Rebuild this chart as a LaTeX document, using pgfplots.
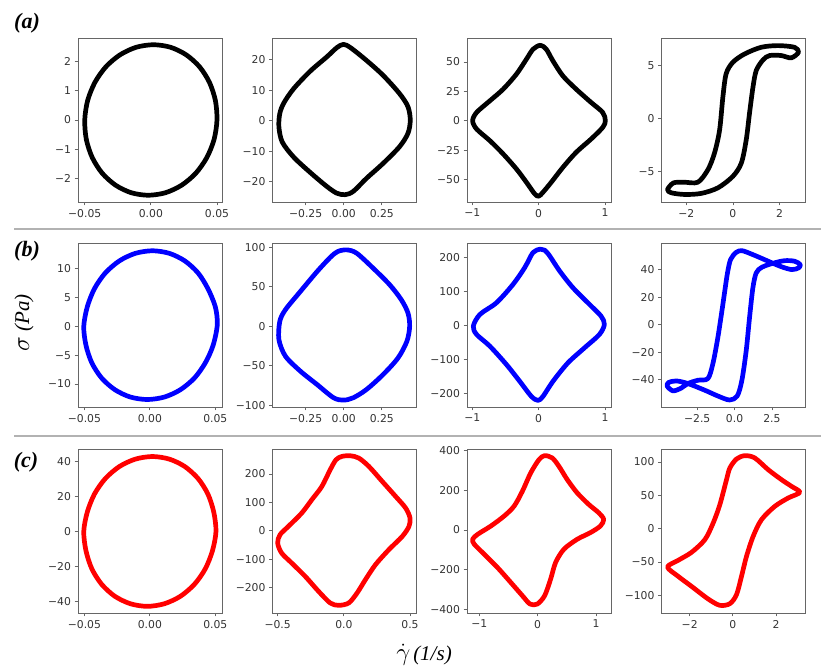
\documentclass[border=0pt]{standalone}
\usepackage{fontspec}
\setmainfont{DejaVu Sans}
\newfontfamily\tnr{Liberation Serif}
\usepackage{pgfplots}
\pgfplotsset{compat=1.18}
\pgfplotsset{
  cell/.style={scale only axis, width=144pt, height=164pt, anchor=north west,
    axis line style={black!60, line width=0.8pt},
    tick align=outside, xtick pos=left, ytick pos=left,
    scaled x ticks=false, scaled y ticks=false,
    major tick length=3.5pt, every tick/.style={black!60, line width=0.8pt},
    ticklabel style={font=\fontsize{10.8}{12}\selectfont, text=black!80},
    clip=false},
  curve/.style={smooth cycle, line width=4.7pt, line join=round, line cap=round, no markers},
}
\begin{document}
\begin{tikzpicture}
\path[use as bounding box] (0,0) rectangle (821pt,668pt);
% separators
\draw[black!30, line width=2pt] (14pt,438.8pt) -- (821pt,438.8pt);
\draw[black!30, line width=2pt] (14pt,232.3pt) -- (821pt,232.3pt);
% panel labels
\node[font=\tnr\bfseries\itshape\fontsize{22}{24}\selectfont] at (27pt,645pt) {(a)};
\node[font=\tnr\bfseries\itshape\fontsize{22}{24}\selectfont] at (27pt,417pt) {(b)};
\node[font=\tnr\bfseries\itshape\fontsize{22}{24}\selectfont] at (26pt,205.5pt) {(c)};
\node[rotate=90, font=\tnr\itshape\fontsize{21}{24}\selectfont] at (24pt,345pt) {{\fontsize{26}{28}\selectfont$\sigma$} (Pa)};
\node[font=\tnr\itshape\fontsize{21}{24}\selectfont] at (424pt,13pt) {{\fontsize{24}{26}\selectfont$\dot{\gamma}$}\hspace{3pt}(1/s)};

% ---------- row a ----------
\begin{axis}[cell, at={(78pt,630pt)}, xmin=-0.0551, xmax=0.0538, ymin=-2.8, ymax=2.8,
  xtick={-0.05,0,0.05}, xticklabels={−0.05,0.00,0.05},
  ytick={-2,-1,0,1,2}, yticklabels={−2,−1,0,1,2}]
\addplot[curve, black] coordinates {(0.05,0) (0.0488,0.666) (0.0443,1.285) (0.0368,1.817) (0.0267,2.226) (0.0149,2.483) (0.002,2.57) (-0.0111,2.483) (-0.0233,2.226) (-0.034,1.817) (-0.0423,1.285) (-0.0478,0.666) (-0.05,0) (-0.0488,-0.666) (-0.0443,-1.285) (-0.0368,-1.817) (-0.0267,-2.226) (-0.0149,-2.483) (-0.002,-2.57) (0.0111,-2.483) (0.0233,-2.226) (0.034,-1.817) (0.0423,-1.285) (0.0478,-0.666)};
\end{axis}
\begin{axis}[cell, at={(272.5pt,630pt)}, xmin=-0.468, xmax=0.478, ymin=-26.7, ymax=27.2,
  xtick={-0.25,0,0.25}, xticklabels={−0.25,0.00,0.25},
  ytick={-20,-10,0,10,20}, yticklabels={−20,−10,0,10,20}]
\addplot[curve, black] coordinates {(-0.002,25.1) (0.045,24.0) (0.15,19.8) (0.259,14.9) (0.367,8.9) (0.422,4.6) (0.437,0.2) (0.422,-4.1) (0.367,-8.5) (0.259,-14.0) (0.15,-18.9) (0.063,-23.2) (0.009,-24.3) (-0.046,-23.8) (-0.111,-21.6) (-0.220,-17.0) (-0.328,-12.0) (-0.404,-7.0) (-0.426,-2.0) (-0.420,2.4) (-0.393,5.9) (-0.328,10.6) (-0.220,16.3) (-0.111,21.0) (-0.046,24.0)};
\end{axis}
\begin{axis}[cell, at={(467pt,630pt)}, xmin=-1.08, xmax=1.09, ymin=-69.2, ymax=70.5,
  xtick={-1,0,1}, xticklabels={−1,0,1},
  ytick={-50,-25,0,25,50}, yticklabels={−50,−25,0,25,50}]
\addplot[curve, black] coordinates {(0.025,64.3) (-0.085,60.9) (-0.185,52.4) (-0.335,39.7) (-0.535,26.9) (-0.735,17.0) (-0.935,7.1) (-0.995,0) (-0.935,-7.1) (-0.735,-17.0) (-0.535,-28.3) (-0.335,-41.1) (-0.185,-52.4) (-0.06,-62.3) (0,-64.3) (0.065,-60.9) (0.19,-52.4) (0.365,-39.7) (0.565,-26.9) (0.79,-15.6) (0.965,-5.7) (1.005,0) (0.965,7.1) (0.79,15.6) (0.565,26.9) (0.365,38.2) (0.215,51.0) (0.115,60.9)};
\end{axis}
\begin{axis}[cell, at={(661.5pt,630pt)}, xmin=-3.06, xmax=3.11, ymin=-7.9, ymax=7.6,
  xtick={-2,0,2}, xticklabels={−2,0,2},
  ytick={-5,0,5}, yticklabels={−5,0,5}]
\addplot[curve, black] coordinates {(-0.57,-1.09) (-0.43,2.03) (-0.29,4.22) (0,5.31) (0.5,6.09) (1.21,6.72) (1.93,6.88) (2.64,6.72) (2.81,6.25) (2.5,5.72) (2.07,5.94) (1.57,5.94) (1.29,5.53) (1.0,4.53) (0.86,2.97) (0.71,0.47) (0.57,-2.03) (0.36,-4.22) (0,-5.47) (-0.64,-6.56) (-1.36,-7.09) (-2.07,-7.19) (-2.64,-7.03) (-2.80,-6.72) (-2.55,-6.1) (-2.1,-6.03) (-1.5,-6.03) (-1.07,-4.84) (-0.79,-3.28)};
\end{axis}

% ---------- row b ----------
\begin{axis}[cell, at={(78pt,425pt)}, xmin=-0.0549, xmax=0.0551, ymin=-14.0, ymax=14.5,
  xtick={-0.05,0,0.05}, xticklabels={−0.05,0.00,0.05},
  ytick={-10,-5,0,5,10}, yticklabels={−10,−5,0,5,10}]
\addplot[curve, blue] coordinates {(0.0515,0.3) (0.0500,3.41) (0.0443,6.58) (0.0368,9.3) (0.0267,11.39) (0.0149,12.7) (0.002,13.15) (-0.0111,12.7) (-0.0233,11.39) (-0.034,9.3) (-0.0423,6.58) (-0.0478,3.41) (-0.0505,0) (-0.0488,-3.29) (-0.0443,-6.35) (-0.0368,-8.98) (-0.0267,-11.0) (-0.0149,-12.27) (-0.002,-12.7) (0.0111,-12.27) (0.0233,-11.0) (0.034,-8.98) (0.0423,-6.35) (0.0483,-3.29)};
\end{axis}
\begin{axis}[cell, at={(272.5pt,425pt)}, xmin=-0.468, xmax=0.478, ymin=-102, ymax=105.3,
  xtick={-0.25,0,0.25}, xticklabels={−0.25,0.00,0.25},
  ytick={-100,-50,0,50,100}, yticklabels={−100,−50,0,50,100}]
\addplot[curve, blue] coordinates {(-0.040,94.5) (0.020,96.6) (0.085,92.4) (0.193,73.5) (0.302,52.5) (0.378,33.6) (0.422,16.8) (0.433,0) (0.415,-18.9) (0.357,-39.9) (0.259,-60.9) (0.150,-79.8) (0.063,-90.3) (-0.002,-93.3) (-0.067,-90.3) (-0.176,-73.5) (-0.285,-56.7) (-0.383,-37.8) (-0.426,-16.8) (-0.420,6.3) (-0.383,21.0) (-0.285,44.0) (-0.176,69.0) (-0.089,87.0)};
\end{axis}
\begin{axis}[cell, at={(467pt,425pt)}, xmin=-1.08, xmax=1.09, ymin=-240, ymax=242.7,
  xtick={-1,0,1}, xticklabels={−1,0,1},
  ytick={-200,-100,0,100,200}, yticklabels={−200,−100,0,100,200}]
\addplot[curve, blue] coordinates {(0.025,224.6) (-0.085,214.7) (-0.21,170.4) (-0.385,121.2) (-0.635,67.0) (-0.885,32.5) (-0.985,-2.0) (-0.935,-26.6) (-0.735,-61.1) (-0.485,-115.2) (-0.285,-164.5) (-0.11,-208.8) (-0.01,-220.6) (0.065,-208.8) (0.215,-164.5) (0.44,-110.3) (0.69,-66.0) (0.915,-26.6) (0.99,3.0) (0.94,27.6) (0.765,62.1) (0.515,111.3) (0.315,160.6) (0.165,204.9) (0.09,221.6)};
\end{axis}
\begin{axis}[cell, at={(661.5pt,425pt)}, xmin=-4.89, xmax=4.75, ymin=-60, ymax=59.6,
  xtick={-2.5,0,2.5}, xticklabels={−2.5,0.0,2.5},
  ytick={-40,-20,0,20,40}, yticklabels={−40,−20,0,20,40}]
\addplot[curve, blue] coordinates {(-1.116,-9.2) (-0.781,14.9) (-0.491,36.6) (-0.268,47.5) (0.112,52.8) (0.491,54.0) (1.116,51.6) (1.897,48.0) (2.567,44.8) (3.237,41.9) (3.839,40.2) (4.286,41.4) (4.397,43.9) (4.018,46.3) (3.348,46.7) (2.567,44.8) (1.830,41.9) (1.451,37.8) (1.228,27.0) (1.004,5.3) (0.781,-18.8) (0.491,-40.5) (0.179,-52.0) (-0.335,-54.9) (-1.116,-52.0) (-2.009,-47.7) (-3.125,-42.9) (-3.906,-41.0) (-4.420,-42.2) (-4.509,-44.8) (-4.129,-48.2) (-3.616,-46.5) (-3.125,-42.9) (-2.455,-40.5) (-1.786,-39.3) (-1.451,-28.4)};
\end{axis}

% ---------- row c ----------
\begin{axis}[cell, at={(78pt,219pt)}, xmin=-0.0549, xmax=0.0551, ymin=-46.7, ymax=47.2,
  xtick={-0.05,0,0.05}, xticklabels={−0.05,0.00,0.05},
  ytick={-40,-20,0,20,40}, yticklabels={−40,−20,0,20,40}]
\addplot[curve, red] coordinates {(0.0505,0) (0.0488,11.1) (0.0443,21.45) (0.0368,30.3) (0.0267,37.15) (0.0149,41.4) (0.002,42.9) (-0.0111,41.4) (-0.0233,37.15) (-0.034,30.3) (-0.0423,21.45) (-0.0478,11.1) (-0.0505,0) (-0.0488,-11.1) (-0.0443,-21.45) (-0.0368,-30.3) (-0.0267,-37.15) (-0.0149,-41.4) (-0.002,-42.9) (0.0111,-41.4) (0.0233,-37.15) (0.034,-30.3) (0.0423,-21.45) (0.0478,-11.1)};
\end{axis}
\begin{axis}[cell, at={(272.5pt,219pt)}, xmin=-0.539, xmax=0.549, ymin=-289.8, ymax=287.7,
  xtick={-0.5,0,0.5}, xticklabels={−0.5,0.0,0.5},
  ytick={-200,-100,0,100,200}, yticklabels={−200,−100,0,100,200}]
\addplot[curve, red] coordinates {(-0.242,109.1) (-0.166,156.0) (-0.103,214.7) (-0.059,249.9) (-0.014,261.6) (0.049,263.9) (0.113,255.7) (0.189,226.4) (0.290,173.6) (0.391,120.8) (0.467,79.8) (0.5,44.6) (0.492,15.2) (0.442,-19.9) (0.340,-66.9) (0.239,-119.6) (0.163,-172.4) (0.1,-219.4) (0.037,-254.5) (-0.039,-262.8) (-0.103,-254.5) (-0.191,-213.5) (-0.292,-160.7) (-0.394,-113.8) (-0.470,-78.6) (-0.5,-43.4) (-0.482,-14.1) (-0.419,15.2) (-0.318,62.2)};
\end{axis}
\begin{axis}[cell, at={(467pt,219pt)}, xmin=-1.21, xmax=1.256, ymin=-416.7, ymax=406.7,
  xtick={-1,0,1}, xticklabels={−1,0,1},
  ytick={-400,-200,0,200,400}, yticklabels={−400,−200,0,200,400}]
\addplot[curve, red] coordinates {(-0.403,120.0) (-0.261,195.0) (-0.119,286.7) (0.023,353.4) (0.119,373.4) (0.25,361.7) (0.364,320.0) (0.506,253.4) (0.676,186.7) (0.875,128.4) (1.045,86.7) (1.131,53.3) (1.074,20.0) (0.903,-13.3) (0.676,-46.7) (0.449,-96.7) (0.307,-163.4) (0.222,-246.7) (0.119,-330.1) (-0.006,-371.7) (-0.131,-371.7) (-0.261,-330.1) (-0.460,-263.4) (-0.688,-188.4) (-0.915,-121.7) (-1.085,-71.7) (-1.114,-46.7) (-1.028,-21.7) (-0.801,20.0) (-0.574,70.0)};
\end{axis}
\begin{axis}[cell, at={(661.5pt,219pt)}, xmin=-3.305, xmax=3.367, ymin=-126.5, ymax=119.5,
  xtick={-2,0,2}, xticklabels={−2,0,2},
  ytick={-100,-50,0,50,100}, yticklabels={−100,−50,0,50,100}]
\addplot[curve, red] coordinates {(-0.911,8.5) (-0.602,36) (-0.293,73.5) (-0.139,91) (0.170,104.5) (0.556,109.5) (1.019,106) (1.637,88.5) (2.255,73.5) (2.718,63.5) (3.104,54.5) (2.564,46) (1.946,33.5) (1.328,13.5) (0.942,-11.5) (0.633,-41.5) (0.402,-71.5) (0.170,-99) (-0.139,-112.5) (-0.602,-115) (-1.143,-105.5) (-1.915,-86.5) (-2.533,-71.5) (-3.027,-57.5) (-2.533,-47.5) (-1.915,-35.5) (-1.297,-16.5)};
\end{axis}
\end{tikzpicture}
\end{document}
